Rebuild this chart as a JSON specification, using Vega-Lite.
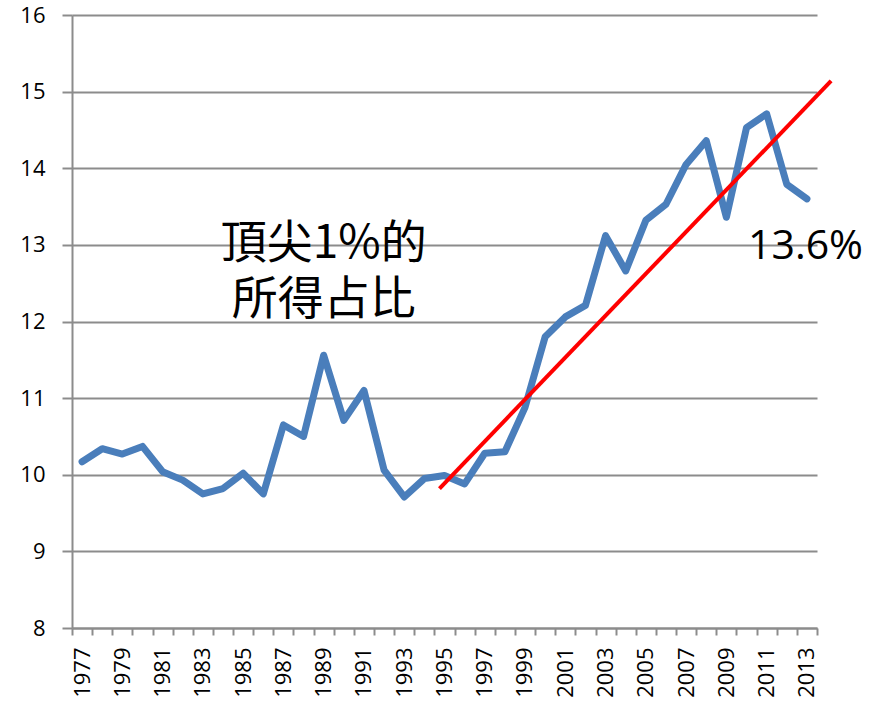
{
  "$schema": "https://vega.github.io/schema/vega-lite/v6.json",
  "width": 745,
  "height": 613,
  "autosize": {"type": "none"},
  "padding": {"left": 72, "top": 15, "right": 66, "bottom": 74},
  "background": "white",
  "config": {"view": {"stroke": null}},
  "datasets": {
    "series": [
      {"year": 1977, "share": 10.17},
      {"year": 1978, "share": 10.34},
      {"year": 1979, "share": 10.27},
      {"year": 1980, "share": 10.37},
      {"year": 1981, "share": 10.04},
      {"year": 1982, "share": 9.93},
      {"year": 1983, "share": 9.75},
      {"year": 1984, "share": 9.82},
      {"year": 1985, "share": 10.02},
      {"year": 1986, "share": 9.75},
      {"year": 1987, "share": 10.65},
      {"year": 1988, "share": 10.5},
      {"year": 1989, "share": 11.56},
      {"year": 1990, "share": 10.71},
      {"year": 1991, "share": 11.1},
      {"year": 1992, "share": 10.06},
      {"year": 1993, "share": 9.71},
      {"year": 1994, "share": 9.95},
      {"year": 1995, "share": 9.99},
      {"year": 1996, "share": 9.88},
      {"year": 1997, "share": 10.28},
      {"year": 1998, "share": 10.3},
      {"year": 1999, "share": 10.88},
      {"year": 2000, "share": 11.8},
      {"year": 2001, "share": 12.06},
      {"year": 2002, "share": 12.21},
      {"year": 2003, "share": 13.12},
      {"year": 2004, "share": 12.66},
      {"year": 2005, "share": 13.32},
      {"year": 2006, "share": 13.53},
      {"year": 2007, "share": 14.05},
      {"year": 2008, "share": 14.36},
      {"year": 2009, "share": 13.36},
      {"year": 2010, "share": 14.53},
      {"year": 2011, "share": 14.71},
      {"year": 2012, "share": 13.79},
      {"year": 2013, "share": 13.6}
    ],
    "trend": [
      {"year": 1994.75, "share": 9.82},
      {"year": 2014.2, "share": 15.14}
    ],
    "title": [
      {"year": 1989, "share": 13.01, "label": "頂尖1%的\n所得占比"}
    ],
    "last": [
      {"year": 2012.93, "share": 12.81, "label": "13.6%"}
    ]
  },
  "encoding": {
    "x": {
      "field": "year",
      "type": "quantitative",
      "scale": {"domain": [1976.5, 2013.5], "nice": false, "zero": false},
      "axis": {
        "title": null,
        "grid": false,
        "values": [1976.5, 1977.5, 1978.5, 1979.5, 1980.5, 1981.5, 1982.5, 1983.5, 1984.5, 1985.5, 1986.5, 1987.5, 1988.5, 1989.5, 1990.5, 1991.5, 1992.5, 1993.5, 1994.5, 1995.5, 1996.5, 1997.5, 1998.5, 1999.5, 2000.5, 2001.5, 2002.5, 2003.5, 2004.5, 2005.5, 2006.5, 2007.5, 2008.5, 2009.5, 2010.5, 2011.5, 2012.5, 2013.5],
        "labelExpr": "datum.value < 2013 && (datum.value + 0.5) % 2 == 1 ? format(datum.value + 0.5, 'd') : ''",
        "labelAngle": -90,
        "labelOffset": 10,
        "labelFlush": false,
        "labelOverlap": false,
        "labelBound": false,
        "labelFont": "Open Sans",
        "labelFontSize": 22,
        "labelColor": "#000000",
        "labelPadding": 12,
        "tickSize": 7,
        "tickColor": "#8c8c8c",
        "tickWidth": 2,
        "domainColor": "#8c8c8c",
        "domainWidth": 2
      }
    },
    "y": {
      "field": "share",
      "type": "quantitative",
      "scale": {"domain": [8, 16], "nice": false, "zero": false},
      "axis": {
        "title": null,
        "values": [8, 9, 10, 11, 12, 13, 14, 15, 16],
        "grid": true,
        "gridColor": "#8c8c8c",
        "gridWidth": 2,
        "gridOpacity": 1,
        "labelFont": "Open Sans",
        "labelFontSize": 22,
        "labelColor": "#000000",
        "labelPadding": 17,
        "tickSize": 10,
        "tickColor": "#8c8c8c",
        "tickWidth": 2,
        "domainColor": "#8c8c8c",
        "domainWidth": 2
      }
    }
  },
  "layer": [
    {
      "data": {"name": "series"},
      "mark": {"type": "line", "color": "#4a7ebb", "strokeWidth": 7, "strokeJoin": "round", "strokeCap": "round"}
    },
    {
      "data": {"name": "trend"},
      "mark": {"type": "line", "color": "#ff0000", "strokeWidth": 4, "clip": false}
    },
    {
      "data": {"name": "title"},
      "mark": {"type": "text", "font": "Noto Sans CJK TC", "fontSize": 46, "align": "center", "baseline": "middle", "lineBreak": "\n", "lineHeight": 56, "color": "#000000"},
      "encoding": {"text": {"field": "label", "type": "nominal"}}
    },
    {
      "data": {"name": "last"},
      "mark": {"type": "text", "font": "Open Sans", "fontSize": 41, "align": "center", "baseline": "alphabetic", "color": "#000000"},
      "encoding": {"text": {"field": "label", "type": "nominal"}}
    }
  ]
}
